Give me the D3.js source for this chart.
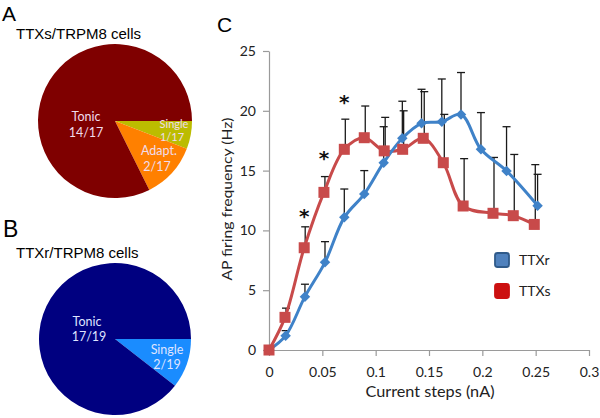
<!DOCTYPE html>
<html>
<head>
<meta charset="utf-8">
<script src="https://cdn.jsdelivr.net/npm/d3@7/dist/d3.min.js"></script>
<style>
  html, body { margin: 0; padding: 0; background: #fff; }
  svg { display: block; }
</style>
</head>
<body>
<svg id="chart" width="600" height="418"></svg>
<script>
// ---------- Data ----------
// Pie A: TTXs/TRPM8 cells
const pieALabels = ["Single", "Adapt.", "Tonic"];
const pieAValues = [1, 2, 14];
const pieAText   = ["1/17", "2/17", "14/17"];
// Pie B: TTXr/TRPM8 cells
const pieBLabels = ["Single", "Tonic"];
const pieBValues = [2, 17];
const pieBText   = ["2/19", "17/19"];

// Panel C: AP firing frequency vs current steps
const ttxsX   = [0, 0.015, 0.033, 0.0515, 0.0706, 0.0893, 0.108, 0.1253, 0.1446, 0.1634, 0.182, 0.210, 0.229, 0.2487];
const ttxsY   = [0, 2.73, 8.55, 13.18, 16.78, 17.75, 16.65, 16.78, 17.70, 15.66, 12.04, 11.43, 11.23, 10.5];
const ttxsErr = [0, 3.5, 10.3, 14.5, 19.3, 20.4, 19.45, 20.0, 21.6, 19.7, 16.0, 16.1, 16.35, 15.5];

const ttxrX   = [0, 0.0156, 0.0337, 0.0525, 0.0706, 0.0893, 0.1075, 0.125, 0.143, 0.162, 0.180, 0.1987, 0.2227, 0.2518];
const ttxrY   = [0, 1.2, 4.46, 7.33, 11.09, 13.04, 15.66, 17.70, 18.95, 19.09, 19.7, 16.78, 14.97, 12.07];
const ttxrErr = [0, 1.62, 5.5, 9.06, 13.46, 15.0, 18.67, 20.8, 21.8, 22.66, 23.2, 19.85, 18.67, 14.69];

const sigX = [0.033, 0.0515, 0.0706];
const sigY = [11.55, 16.4, 21.05];

const yTicks = [0, 5, 10, 15, 20, 25];
const xTicks = [0, 0.05, 0.1, 0.15, 0.2, 0.25, 0.3];
const xTickLabels = ["0", "0.05", "0.1", "0.15", "0.2", "0.25", "0.3"];

const seriesNames = ["TTXr", "TTXs"];

// ---------- Drawing ----------
const svg = d3.select("#chart");
const arialF = "'Liberation Sans', Arial, sans-serif";
const calF = "Lato, 'Open Sans', sans-serif";

// Panel letters and titles
svg.append("text").attr("x", 2).attr("y", 21).text("A")
  .attr("font-family", arialF).attr("font-size", 21).attr("fill", "#000");
svg.append("text").attr("x", 16).attr("y", 39).text("TTXs/TRPM8 cells")
  .attr("font-family", arialF).attr("font-size", 15).attr("fill", "#000");
svg.append("text").attr("x", 3).attr("y", 237).text("B")
  .attr("font-family", arialF).attr("font-size", 23).attr("fill", "#000");
svg.append("text").attr("x", 16).attr("y", 258).text("TTXr/TRPM8 cells")
  .attr("font-family", arialF).attr("font-size", 15).attr("fill", "#000");
svg.append("text").attr("x", 217).attr("y", 32).text("C")
  .attr("font-family", arialF).attr("font-size", 21).attr("fill", "#000");

// Pie helper; labelPos: [dx, dy baseline, second-line dx, line gap, font size]
function drawPie(cx, cy, r, labels, values, texts, colors, labelPos, labelColor) {
  const pie = d3.pie().sort(null).startAngle(Math.PI / 2).endAngle(Math.PI / 2 + 2 * Math.PI);
  const arc = d3.arc().innerRadius(0).outerRadius(r);
  const g = svg.append("g").attr("transform", `translate(${cx},${cy})`);
  const arcs = pie(values);
  g.selectAll("path").data(arcs).enter().append("path")
    .attr("d", arc).attr("fill", (d, i) => colors[i]);
  arcs.forEach((d, i) => {
    const p = labelPos[i];
    const t = g.append("text").attr("text-anchor", "middle")
      .attr("font-family", calF).attr("font-size", p[4]).attr("fill", labelColor);
    t.append("tspan").attr("x", p[0]).attr("y", p[1]).text(labels[i]);
    t.append("tspan").attr("x", p[0] + p[2]).attr("y", p[1] + p[3]).text(texts[i]);
  });
}

drawPie(115, 121, 77, pieALabels, pieAValues, pieAText,
  ["#bcbc00", "#ff8000", "#7f0000"],
  [[59, 7, -2, 13, 11], [44, 34, -2, 16, 12.5], [-29, 0, 0, 16, 12.5]], "#f0dcec");
drawPie(115, 339, 76, pieBLabels, pieBValues, pieBText,
  ["#1a8cff", "#000080"],
  [[52, 15, 0, 15, 12.5], [-28, -13, 2, 15, 12.5]], "#dfe4ff");

// Panel C
const x = d3.scaleLinear().domain([0, 0.3]).range([269, 589]);
const y = d3.scaleLinear().domain([0, 25]).range([350, 51]);

const axisColor = "#9a9a9a";
const gx = svg.append("g").attr("transform", "translate(0,350)")
  .call(d3.axisBottom(x).tickValues(xTicks).tickFormat((d, i) => xTickLabels[i]).tickSize(6).tickSizeOuter(0).tickPadding(11));
const gy = svg.append("g").attr("transform", "translate(269,0)")
  .call(d3.axisLeft(y).tickValues(yTicks).tickSize(6).tickSizeOuter(0).tickPadding(7));
[gx, gy].forEach(g => {
  g.select(".domain").attr("stroke", axisColor).attr("stroke-width", 1.2);
  g.selectAll(".tick line").attr("stroke", axisColor).attr("stroke-width", 1.2);
  g.selectAll(".tick text").attr("font-family", calF).attr("font-size", 14).attr("fill", "#222");
});

// Axis titles
svg.append("text").attr("transform", "translate(232,199) rotate(-90)")
  .attr("text-anchor", "middle").attr("font-family", calF).attr("font-size", 14).attr("fill", "#222")
  .attr("textLength", 163).attr("lengthAdjust", "spacingAndGlyphs")
  .text("AP firing frequency (Hz)");
svg.append("text").attr("x", 430).attr("y", 397)
  .attr("text-anchor", "middle").attr("font-family", calF).attr("font-size", 15).attr("fill", "#222")
  .attr("textLength", 129).attr("lengthAdjust", "spacingAndGlyphs")
  .text("Current steps (nA)");

const blue = "#3f82c8", red = "#c84a4a";

function errBars(xs, ys, es, dx) {
  const g = svg.append("g").attr("stroke", "#1a1a1a").attr("stroke-width", 1.3);
  xs.forEach((xv, i) => {
    if (es[i] <= ys[i]) return;
    const px = x(xv) + dx;
    g.append("line").attr("x1", px).attr("x2", px).attr("y1", y(ys[i])).attr("y2", y(es[i]));
    g.append("line").attr("x1", px - 4).attr("x2", px + 4).attr("y1", y(es[i])).attr("y2", y(es[i]));
  });
}
errBars(ttxrX, ttxrY, ttxrErr, 0);
errBars(ttxsX, ttxsY, ttxsErr, 1);

const line = d3.line().x(d => x(d[0])).y(d => y(d[1])).curve(d3.curveCatmullRom.alpha(0.5));
const redPts = ttxsX.map((v, i) => [v, ttxsY[i]]);
const bluePts = ttxrX.map((v, i) => [v, ttxrY[i]]);

svg.append("path").attr("d", line(redPts)).attr("fill", "none").attr("stroke", red).attr("stroke-width", 3);
svg.append("path").attr("d", line(bluePts)).attr("fill", "none").attr("stroke", blue).attr("stroke-width", 3);

svg.append("g").selectAll("path").data(bluePts).enter().append("path")
  .attr("d", d3.symbol(d3.symbolDiamond2, 70))
  .attr("transform", d => `translate(${x(d[0])},${y(d[1])})`)
  .attr("fill", blue);
svg.append("g").selectAll("rect").data(redPts).enter().append("rect")
  .attr("x", d => x(d[0]) - 5.5).attr("y", d => y(d[1]) - 5.5)
  .attr("width", 11).attr("height", 11).attr("fill", red);

// significance asterisks
svg.append("g").selectAll("text").data(sigX).enter().append("text")
  .attr("x", d => x(d)).attr("y", (d, i) => y(sigY[i]) + 11)
  .attr("text-anchor", "middle").attr("font-family", "'DejaVu Sans', sans-serif").attr("font-size", 20).attr("font-weight", "bold")
  .attr("fill", "#111").text("*");

// Legend
const legColors = [{ fill: "#4f81bd", stroke: "#2f5a8a" }, { fill: "#cc1010", stroke: "#cc1010" }];
seriesNames.forEach((name, i) => {
  const ly = 260 + i * 31;
  svg.append("rect").attr("x", 495).attr("y", ly - 7).attr("width", 14).attr("height", 14)
    .attr("rx", 2.5).attr("fill", legColors[i].fill).attr("stroke", legColors[i].stroke).attr("stroke-width", 1.8);
  svg.append("text").attr("x", 519).attr("y", ly + 5).text(name)
    .attr("font-family", calF).attr("font-size", 14).attr("fill", "#222");
});
</script>
</body>
</html>
